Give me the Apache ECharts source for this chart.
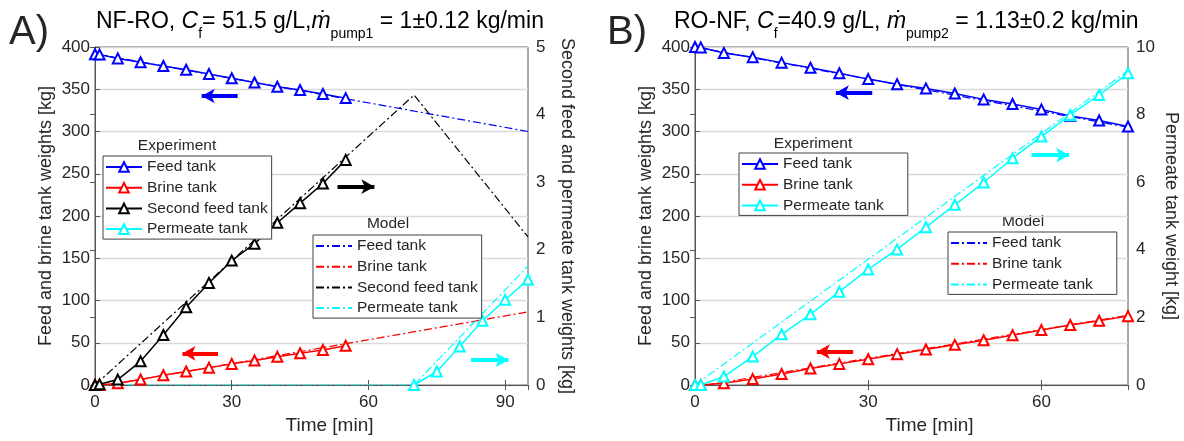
<!DOCTYPE html>
<html>
<head>
<meta charset="utf-8">
<script src="https://cdn.jsdelivr.net/npm/echarts@6/dist/echarts.min.js"></script>
<style>
  html, body { margin: 0; padding: 0; background: #fff; }
  #chart { width: 1184px; height: 441px; }
</style>
</head>
<body>
<div id="chart"></div>
<script>
// ---------- Panel A: NF-RO ----------
const timeA = [0, 1, 5, 10, 15, 20, 25, 30, 35, 40, 45, 50, 55];
const feedA = [391.5, 391, 386.5, 382, 377.5, 373, 368, 363, 358, 353, 349, 344.5, 339.5];
const brineA = [0, 0, 2, 6.5, 11.5, 16, 20.5, 25, 29, 33.5, 37.5, 41.5, 46.5];
const secondFeedA = [0, 0.01, 0.08, 0.35, 0.74, 1.15, 1.51, 1.84, 2.09, 2.4, 2.69, 2.98, 3.33];
const permTimeA = [70, 75, 80, 85, 90, 95];
const permA = [0, 0.2, 0.57, 0.95, 1.26, 1.56];

const feedModelTimeA = [0, 95];
const feedModelA = [392, 300];
const brineModelTimeA = [3, 95];
const brineModelA = [0, 86.5];
const secondModelTimeA = [0, 70, 95];
const secondModelA = [0, 4.29, 2.19];
const permModelTimeA = [0, 70, 95];
const permModelA = [0, 0, 1.76];

// ---------- Panel B: RO-NF ----------
const timeB = [0, 1, 5, 10, 15, 20, 25, 30, 35, 40, 45, 50, 55, 60, 65, 70, 75];
const feedB = [400, 399.5, 393, 388, 381.5, 375.5, 369, 362, 356, 351, 345, 338, 332.5, 326, 318.5, 313, 306];
const brineB = [0, 0, 2, 7, 13, 19.5, 25, 30.5, 36.5, 42, 47.5, 53, 59, 65, 71, 76, 81.5];
const permB = [0, 0, 0.25, 0.84, 1.5, 2.09, 2.76, 3.42, 4.01, 4.67, 5.33, 5.99, 6.71, 7.35, 7.99, 8.58, 9.22];

const feedModelTimeB = [0, 75];
const feedModelB = [400, 305];
const brineModelTimeB = [2, 75];
const brineModelB = [0, 82.5];
const permModelTimeB = [0, 75];
const permModelB = [0, 9.3];

// Direction arrows (time start, time end, value on the left axis)
const arrowsA = { blue: [31.3, 23.4, 342], black: [53.2, 61.3, 234.7], red: [27, 19.2, 37.5], cyan: [82.5, 90.7, 29.6] };
const arrowsB = { blue: [30.7, 24.4, 346], cyan: [58.3, 64.8, 272], red: [27.4, 21.1, 39.4] };

// Axis ticks
const xTicks = { interval: 30 };
const leftTicks = { min: 0, max: 400, interval: 50 };
const rightTicksA = { min: 0, max: 5, interval: 1 };
const rightTicksB = { min: 0, max: 10, interval: 2 };

const BLUE = '#0000ff', RED = '#ff0000', BLACK = '#000000', CYAN = '#00ffff';
const TXT = '#262626', AXIS = '#555555';
const FONT = '"Liberation Sans", Arial, Helvetica, sans-serif';
const DASHDOT = [8, 3, 2, 3];

const zip = (xs, ys) => xs.map((x, i) => [x, ys[i]]);

function arrowLine(color, a) {
  return {
    silent: true, symbol: ['none', 'arrow'], symbolSize: [11, 13],
    label: { show: false },
    lineStyle: { color, width: 4, type: 'solid' },
    data: [[{ coord: [a[0], a[2]] }, { coord: [a[1], a[2]] }]]
  };
}

function expSeries(name, color, xi, yi, xs, ys) {
  return {
    name, type: 'line', xAxisIndex: xi, yAxisIndex: yi,
    data: zip(xs, ys),
    symbol: 'emptyTriangle', symbolSize: 10,
    lineStyle: { color, width: 1.5 },
    itemStyle: { color, borderColor: color, borderWidth: 1.3 },
    z: 3
  };
}
function modelSeries(name, color, xi, yi, xs, ys) {
  return {
    name, type: 'line', xAxisIndex: xi, yAxisIndex: yi,
    data: zip(xs, ys), symbol: 'none',
    lineStyle: { color, width: 1.2, type: DASHDOT },
    itemStyle: { color },
    z: 2
  };
}
// Arrows sit on the left-axis scale of each panel
function arrowSeries(xi, yi, color, a) {
  return { type: 'line', xAxisIndex: xi, yAxisIndex: yi, data: [], silent: true, markLine: arrowLine(color, a) };
}

function xAxisDef(gi, max, position) {
  const top = position === 'top';
  return {
    type: 'value', gridIndex: gi, position, min: 0, max, interval: xTicks.interval,
    name: top ? '' : 'Time [min]', nameLocation: 'middle', nameGap: 31,
    nameTextStyle: { color: TXT, fontSize: 19, fontFamily: FONT, padding: [0, 0, 0, 36] },
    axisLine: { show: true, lineStyle: { color: AXIS, width: 1 } },
    axisTick: { show: true, inside: true, length: 5, lineStyle: { color: AXIS } },
    axisLabel: { show: !top, color: TXT, fontSize: 17, fontFamily: FONT, margin: 9, showMaxLabel: false },
    splitLine: { show: false }
  };
}
function yAxisDef(gi, ticks, position, name, nameGap, rot) {
  return {
    type: 'value', gridIndex: gi, position, min: ticks.min, max: ticks.max, interval: ticks.interval,
    name, nameLocation: 'middle', nameGap, nameRotate: rot,
    nameTextStyle: { color: TXT, fontSize: 18, fontFamily: FONT },
    axisLine: { show: true, lineStyle: { color: AXIS, width: 1 } },
    axisTick: { show: true, inside: true, length: 5, lineStyle: { color: AXIS } },
    axisLabel: { color: TXT, fontSize: 17, fontFamily: FONT, margin: position === 'left' ? 5 : 8 },
    splitLine: { show: position === 'left', lineStyle: { color: '#d9d9d9', width: 1.3 } }
  };
}

const label = n => n.split(':').pop();
function legendDef(left, top, names, padRight, lineOnly) {
  const l = {
    orient: 'vertical', left, top, data: names, selectedMode: false,
    padding: [1, padRight, 0, 2], itemGap: 0.7, itemWidth: 36, itemHeight: 12,
    formatter: label,
    textStyle: { color: TXT, fontSize: 15.5, fontFamily: FONT, lineHeight: 20 },
    backgroundColor: '#ffffff', borderColor: '#404040', borderWidth: 1, borderRadius: 0
  };
  if (lineOnly) l.itemStyle = { opacity: 0 };
  return l;
}

const titleRich = {
  n: { fontSize: 23, fontFamily: FONT, color: '#111', lineHeight: 39 },
  i: { fontSize: 23, fontFamily: FONT, color: '#111', fontStyle: 'italic', lineHeight: 39 },
  s: { fontSize: 14, fontFamily: FONT, color: '#111', lineHeight: 14, verticalAlign: 'bottom' }
};
function textEl(x, y, text, size) {
  return { type: 'text', x, y, silent: true, style: { text, fill: TXT, font: size + 'px ' + FONT, textAlign: 'center', textVerticalAlign: 'middle' } };
}

const option = {
  animation: false,
  backgroundColor: '#ffffff',
  grid: [
    { left: 95, top: 47, width: 433, height: 338, show: true, borderColor: AXIS, borderWidth: 1, backgroundColor: 'transparent' },
    { left: 695, top: 47, width: 433, height: 338, show: true, borderColor: AXIS, borderWidth: 1, backgroundColor: 'transparent' }
  ],
  xAxis: [
    xAxisDef(0, 95, 'bottom'),
    xAxisDef(1, 75, 'bottom'),
    xAxisDef(0, 95, 'top'),
    xAxisDef(1, 75, 'top')
  ],
  yAxis: [
    yAxisDef(0, leftTicks, 'left', 'Feed and brine tank weights [kg]', 40, 90),
    yAxisDef(0, rightTicksA, 'right', 'Second feed and permeate tank weights [kg]', 30, -90),
    yAxisDef(1, leftTicks, 'left', 'Feed and brine tank weights [kg]', 40, 90),
    yAxisDef(1, rightTicksB, 'right', 'Permeate tank weight [kg]', 34, -90)
  ],
  legend: [
    legendDef(103, 156, ['A:exp:Feed tank', 'A:exp:Brine tank', 'A:exp:Second feed tank', 'A:exp:Permeate tank'], 4, false),
    legendDef(313, 235, ['A:model:Feed tank', 'A:model:Brine tank', 'A:model:Second feed tank', 'A:model:Permeate tank'], 4, true),
    legendDef(739, 153, ['B:exp:Feed tank', 'B:exp:Brine tank', 'B:exp:Permeate tank'], 24, false),
    legendDef(948, 232, ['B:model:Feed tank', 'B:model:Brine tank', 'B:model:Permeate tank'], 24, true)
  ],
  graphic: [
    textEl(29, 33, 'A)', 40),
    textEl(627, 33, 'B)', 40),
    { type: 'text', x: 96, y: 2, silent: true, style: { text: '{n|NF-RO, }{i|C}{s|f}{n|= 51.5 g/L,}{i|ṁ}{s|pump1}{n| = 1±0.12 kg/min}', rich: titleRich } },
    { type: 'text', x: 674, y: 2, silent: true, style: { text: '{n|RO-NF, }{i|C}{s|f}{n|=40.9 g/L, }{i|ṁ}{s|pump2}{n| = 1.13±0.2 kg/min}', rich: titleRich } },
    textEl(177, 146, 'Experiment', 15.5),
    textEl(388, 224, 'Model', 15.5),
    textEl(813, 144, 'Experiment', 15.5),
    textEl(1023, 222, 'Model', 15.5)
  ],
  series: [
    modelSeries('A:model:Feed tank', BLUE, 0, 0, feedModelTimeA, feedModelA),
    modelSeries('A:model:Brine tank', RED, 0, 0, brineModelTimeA, brineModelA),
    modelSeries('A:model:Second feed tank', BLACK, 0, 1, secondModelTimeA, secondModelA),
    modelSeries('A:model:Permeate tank', CYAN, 0, 1, permModelTimeA, permModelA),
    expSeries('A:exp:Feed tank', BLUE, 0, 0, timeA, feedA),
    expSeries('A:exp:Brine tank', RED, 0, 0, timeA, brineA),
    expSeries('A:exp:Second feed tank', BLACK, 0, 1, timeA, secondFeedA),
    expSeries('A:exp:Permeate tank', CYAN, 0, 1, permTimeA, permA),

    modelSeries('B:model:Feed tank', BLUE, 1, 2, feedModelTimeB, feedModelB),
    modelSeries('B:model:Brine tank', RED, 1, 2, brineModelTimeB, brineModelB),
    modelSeries('B:model:Permeate tank', CYAN, 1, 3, permModelTimeB, permModelB),
    expSeries('B:exp:Feed tank', BLUE, 1, 2, timeB, feedB),
    expSeries('B:exp:Brine tank', RED, 1, 2, timeB, brineB),
    expSeries('B:exp:Permeate tank', CYAN, 1, 3, timeB, permB),

    arrowSeries(0, 0, BLUE, arrowsA.blue),
    arrowSeries(0, 0, BLACK, arrowsA.black),
    arrowSeries(0, 0, RED, arrowsA.red),
    arrowSeries(0, 0, CYAN, arrowsA.cyan),
    arrowSeries(1, 2, BLUE, arrowsB.blue),
    arrowSeries(1, 2, CYAN, arrowsB.cyan),
    arrowSeries(1, 2, RED, arrowsB.red)
  ]
};

const chart = echarts.init(document.getElementById('chart'), null, { renderer: 'canvas' });
chart.setOption(option);
</script>
</body>
</html>
